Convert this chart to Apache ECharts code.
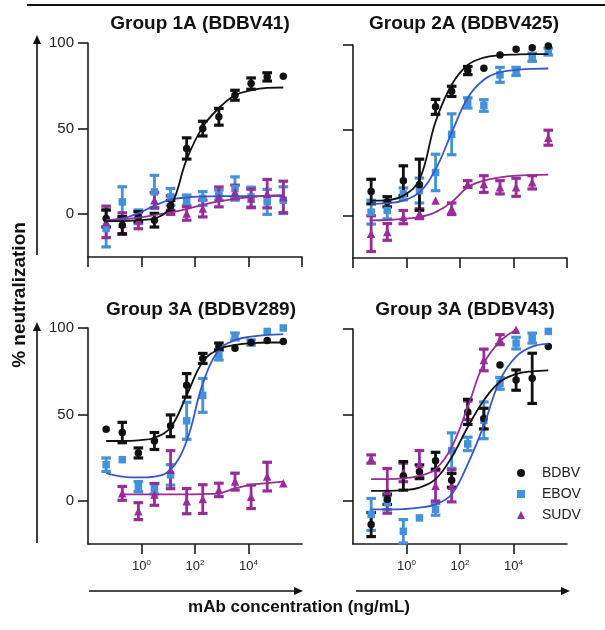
<!DOCTYPE html>
<html>
<head>
<meta charset="utf-8">
<script src="https://cdn.jsdelivr.net/npm/echarts@6/dist/echarts.min.js"></script>
<style>
html, body { margin: 0; padding: 0; background: #fff; }
#chart { width: 605px; height: 630px; }
</style>
</head>
<body>
<div id="chart"></div>
<script>
// Antibody dilution series (4-fold, starting at 200 µg/mL), in ng/mL
const concentrations = [0.0477, 0.191, 0.763, 3.05, 12.2, 48.8, 195, 781, 3125, 12500, 50000, 200000];
const xTickExponents = [-2, 0, 2, 4, 6];
const yTicks = [0, 50, 100];
const virusNames = ['BDBV', 'EBOV', 'SUDV'];

// Group 1A (BDBV41): mean % neutralization, SD, fitted curve
const g1a_bdbv     = [-2.5, -6.4, -1.5, -3.5, 5, 38.4, 50, 56.9, 69.5, 76.3, 80.2, 80.6];
const g1a_bdbv_sd  = [5, 5, 3, 4, 3, 6.2, 4.3, 4.9, 2.9, 3.3, 2.4, 0];
const g1a_bdbv_fit = [-4, -4, -3.5, -2.5, 4.3, 32, 51, 62, 69.5, 72.4, 73.8, 74];
const g1a_ebov     = [-8.4, 7.2, -1.5, 13, 10.1, 8.2, 9.2, 11.1, 15, 10, 7.2, 8.2];
const g1a_ebov_sd  = [10.7, 8.8, 4, 9.7, 4.9, 3, 4, 3, 6.8, 5.8, 7.3, 7.8];
const g1a_ebov_fit = [-3.5, -2.5, 0.5, 5, 8.5, 9.8, 10.3, 10.5, 10.5, 10.5, 10.5, 10.5];
const g1a_sudv     = [-4.5, -5.5, -3.5, 8.2, 5.3, 0.4, 3.3, 10.1, 13, 9.2, 12, 10.1];
const g1a_sudv_sd  = [9.2, 6.3, 5, 4.4, 5.4, 3.9, 4.9, 5.8, 4, 5.4, 8.3, 9.2];
const g1a_sudv_fit = [-3.5, -3, -2, -0.5, 1, 3, 5.5, 7.5, 9, 10, 10.8, 11.2];

// Group 2A (BDBV425)
const g2a_bdbv     = [14, 8, 20.4, 18, 63.7, 72.8, 85, 86.4, 94.2, 97.5, 98.4, 99.4];
const g2a_bdbv_sd  = [7.2, 3, 8.7, 15, 4.4, 3, 2.4, 0, 0, 0, 0, 0];
const g2a_bdbv_fit = [8.7, 9, 11.6, 21, 55, 76.7, 88.3, 92.6, 94, 94.4, 94.6, 94.6];
const g2a_ebov     = [1.9, 2.9, 12.6, 14.6, 25.2, 47.6, 66, 64.5, 82.5, 84.5, 92.8, 96.1];
const g2a_ebov_sd  = [7, 4.9, 3.5, 7.3, 10.7, 12, 3, 3.4, 4.4, 2.4, 2.4, 2];
const g2a_ebov_fit = [6.8, 7.2, 8.7, 13.6, 27, 48.5, 69, 79.6, 84, 85.4, 86, 86.2];
const g2a_sudv     = [-10.7, -9.7, -1, 1, 8.7, 3.9, 18.4, 18.4, 16.5, 16.5, 19.4, 45.6];
const g2a_sudv_sd  = [10.5, 4.9, 3.9, 2.9, 0, 3.4, 2, 4.9, 3.9, 5.3, 3.9, 4.4];
const g2a_sudv_fit = [-2.9, -2.7, -2, -1, 1.9, 7.8, 16.5, 20.4, 22.3, 23.3, 23.7, 23.9];

// Group 3A (BDBV289)
const g3a289_bdbv     = [41.4, 39.5, 27.7, 34.6, 43.4, 66.8, 82.4, 89.3, 88.3, 91.6, 92.8, 92.2];
const g3a289_bdbv_sd  = [0, 5.9, 2.9, 4.9, 6.3, 6.8, 2.9, 2, 0, 0, 0, 0];
const g3a289_bdbv_fit = [34.6, 34.6, 35, 36.5, 42.4, 61, 80.5, 87.7, 90.2, 91.2, 91.6, 91.6];
const g3a289_ebov     = [20.9, 23.8, 8.2, 7, 15, 46.3, 61, 84.4, 95.1, 91.6, 98, 100];
const g3a289_ebov_sd  = [3.9, 0, 2.9, 3, 5.9, 10.7, 9.8, 2.9, 2, 1.5, 0, 0];
const g3a289_ebov_fit = [16, 14, 13.5, 14, 18, 34.6, 67.8, 87.3, 93, 95, 96, 96.5];
const g3a289_sudv     = [null, 4.3, -6, 3.7, 18, -0.2, 1, 6.3, 11.1, 2.3, 14, 10.2];
const g3a289_sudv_sd  = [0, 4, 4.9, 6.3, 11, 7.3, 8.3, 3.9, 4.9, 6.8, 8.3, 0];
const g3a289_sudv_fit = [null, 3.7, 3.7, 3.7, 3.7, 3.7, 3.9, 4.3, 7.2, 9.2, 10.2, 11.1];

// Group 3A (BDBV43)
const g3a43_bdbv     = [-13.7, 1, 14.6, 17, 23.4, 12, 51.8, 47.9, 79.1, 70.3, 71.3, 89.8];
const g3a43_bdbv_sd  = [7, 3, 8.3, 4, 4.9, 4, 7.3, 6, 0, 5.9, 14.6, 0];
const g3a43_bdbv_fit = [5.9, 5.9, 6.3, 7.8, 12.7, 25.4, 43, 58.6, 69.3, 73.8, 75.4, 76];
const g3a43_ebov     = [-7.8, -1, -17.6, -9.8, -4.9, 29.3, 33.2, 46.9, 68.4, 91.8, 94.7, 98.6];
const g3a43_ebov_sd  = [9.3, 4, 6.8, 0, 3.4, 10.3, 3.9, 10.7, 3.4, 3.4, 2.9, 0];
const g3a43_ebov_fit = [-4.9, -4.9, -4.7, -3.9, -2, 3.9, 21.5, 44, 70.3, 84, 89.8, 91.4];
const g3a43_sudv     = [24.4, 5.9, 16.6, 21.5, 8.8, 8.8, 52.7, 82, 93.8, 99.6, null, null];
const g3a43_sudv_sd  = [2.4, 13, 5.4, 7.8, 8.8, 9.3, 5.4, 6.3, 2.9, 0, 0, 0];
const g3a43_sudv_fit = [12.7, 12.7, 13.1, 14.6, 18.5, 31.3, 54.7, 80, 92.8, 99.6, null, null];

const FONT = "'Liberation Sans', Arial, Helvetica, sans-serif";
const AXIS_COLOR = '#1a1a1a';
const style = {
  BDBV: { marker: '#111111', curve: '#111111', symbol: 'circle', size: 7.5 },
  EBOV: { marker: '#4392d8', curve: '#3a56c6', symbol: 'rect', size: 7.5 },
  SUDV: { marker: '#982d98', curve: '#982d98', symbol: 'triangle', size: 8.5 }
};

const panels = [
  { title: 'Group 1A (BDBV41)', cx: 195, ty: 9, grid: { left: 88, top: 43, width: 214, height: 214 }, xLabels: false, yLabels: true,
    data: { BDBV: [g1a_bdbv, g1a_bdbv_sd, g1a_bdbv_fit], EBOV: [g1a_ebov, g1a_ebov_sd, g1a_ebov_fit], SUDV: [g1a_sudv, g1a_sudv_sd, g1a_sudv_fit] } },
  { title: 'Group 2A (BDBV425)', cx: 459, ty: 9, grid: { left: 353, top: 45, width: 214, height: 213 }, xLabels: false, yLabels: false,
    data: { BDBV: [g2a_bdbv, g2a_bdbv_sd, g2a_bdbv_fit], EBOV: [g2a_ebov, g2a_ebov_sd, g2a_ebov_fit], SUDV: [g2a_sudv, g2a_sudv_sd, g2a_sudv_fit] } },
  { title: 'Group 3A (BDBV289)', cx: 196, ty: 295, grid: { left: 88, top: 328, width: 214, height: 216 }, xLabels: true, yLabels: true,
    data: { BDBV: [g3a289_bdbv, g3a289_bdbv_sd, g3a289_bdbv_fit], EBOV: [g3a289_ebov, g3a289_ebov_sd, g3a289_ebov_fit], SUDV: [g3a289_sudv, g3a289_sudv_sd, g3a289_sudv_fit] } },
  { title: 'Group 3A (BDBV43)', cx: 460, ty: 295, grid: { left: 353, top: 329, width: 214, height: 215 }, xLabels: true, yLabels: false,
    data: { BDBV: [g3a43_bdbv, g3a43_bdbv_sd, g3a43_bdbv_fit], EBOV: [g3a43_ebov, g3a43_ebov_sd, g3a43_ebov_fit], SUDV: [g3a43_sudv, g3a43_sudv_sd, g3a43_sudv_fit] } }
];

const logConc = concentrations.map(c => Math.log10(c));

function pairs(values) {
  return values.map((v, i) => [logConc[i], v]).filter(p => p[1] != null);
}

// Error bar with flat caps, drawn from the mean ± SD in axis space
function errorBarItem(color) {
  return function (params, api) {
    const x = api.value(0), m = api.value(1), e = api.value(2);
    const hi = api.coord([x, m + e]);
    const lo = api.coord([x, m - e]);
    const hw = 4.8;
    return {
      type: 'group',
      children: [
        { type: 'line', shape: { x1: hi[0], y1: hi[1], x2: lo[0], y2: lo[1] }, style: { stroke: color, lineWidth: 2.8 } },
        { type: 'line', shape: { x1: hi[0] - hw, y1: hi[1], x2: hi[0] + hw, y2: hi[1] }, style: { stroke: color, lineWidth: 3.2 } },
        { type: 'line', shape: { x1: lo[0] - hw, y1: lo[1], x2: lo[0] + hw, y2: lo[1] }, style: { stroke: color, lineWidth: 3.2 } }
      ]
    };
  };
}

const grids = [], xAxes = [], yAxes = [], series = [], titles = [];
const drawOrder = ['EBOV', 'SUDV', 'BDBV'];

panels.forEach((p, gi) => {
  grids.push(Object.assign({ containLabel: false }, p.grid));
  titles.push({
    text: p.title, left: p.cx, top: p.ty, textAlign: 'center',
    textStyle: { fontFamily: FONT, fontSize: 19, fontWeight: 'bold', color: '#111' }
  });
  xAxes.push({
    gridIndex: gi, type: 'value', min: -2, max: 6, interval: 2, position: 'bottom',
    axisLine: { onZero: false, lineStyle: { color: AXIS_COLOR, width: 1.6 } },
    axisTick: { length: 10, lineStyle: { color: AXIS_COLOR, width: 1.6 } },
    splitLine: { show: false },
    axisLabel: {
      show: p.xLabels, showMinLabel: false, showMaxLabel: false, margin: 15,
      formatter: v => '{b|10}{s|' + v + '}',
      rich: {
        b: { fontFamily: FONT, fontSize: 13, color: '#222', lineHeight: 14 },
        s: { fontFamily: FONT, fontSize: 8, color: '#222', lineHeight: 14, verticalAlign: 'top' }
      }
    }
  });
  yAxes.push({
    gridIndex: gi, type: 'value', min: -25, max: 100, position: 'left',
    axisLine: { onZero: false, lineStyle: { color: AXIS_COLOR, width: 1.6 } },
    axisTick: { length: 10, customValues: yTicks, lineStyle: { color: AXIS_COLOR, width: 1.6 } },
    splitLine: { show: false },
    axisLabel: { show: p.yLabels, customValues: yTicks, margin: 14, fontFamily: FONT, fontSize: 15, color: '#222' }
  });

  drawOrder.forEach(name => {
    const [mean, sd] = p.data[name];
    const st = style[name];
    const errData = mean.map((m, i) => [logConc[i], m, sd[i]]).filter(d => d[1] != null && d[2] > 0);
    series.push({
      name: name + ' SD', type: 'custom', xAxisIndex: gi, yAxisIndex: gi,
      renderItem: errorBarItem(st.marker), data: errData, encode: { x: 0, y: 1 },
      z: 2, silent: true, clip: false
    });
    series.push({
      name: name, type: 'scatter', xAxisIndex: gi, yAxisIndex: gi,
      data: pairs(mean), symbol: st.symbol, symbolSize: st.size,
      itemStyle: { color: st.marker, opacity: 1 }, z: 2, silent: true
    });
  });
  drawOrder.forEach(name => {
    const fit = p.data[name][2];
    const st = style[name];
    series.push({
      name: name + ' fit', type: 'line', xAxisIndex: gi, yAxisIndex: gi,
      data: pairs(fit), showSymbol: false, smooth: 0.4,
      lineStyle: { color: st.curve, width: 1.8 }, itemStyle: { color: st.curve },
      z: 3, silent: true
    });
  });
});

const arrowColor = '#111';
const graphics = [
  // rule across the top of the figure
  { type: 'line', shape: { x1: 27, y1: 5, x2: 605, y2: 5 }, style: { stroke: '#111', lineWidth: 2 } },
  // vertical arrows beside each row
  { type: 'line', shape: { x1: 37, y1: 255, x2: 37, y2: 42 }, style: { stroke: arrowColor, lineWidth: 1.6 } },
  { type: 'polygon', shape: { points: [[37, 35], [33, 44], [41, 44]] }, style: { fill: arrowColor } },
  { type: 'line', shape: { x1: 37, y1: 543, x2: 37, y2: 329 }, style: { stroke: arrowColor, lineWidth: 1.6 } },
  { type: 'polygon', shape: { points: [[37, 322], [33, 331], [41, 331]] }, style: { fill: arrowColor } },
  // horizontal arrows below each column
  { type: 'line', shape: { x1: 89, y1: 591, x2: 295, y2: 591 }, style: { stroke: arrowColor, lineWidth: 1.6 } },
  { type: 'polygon', shape: { points: [[303, 591], [294, 587], [294, 595]] }, style: { fill: arrowColor } },
  { type: 'line', shape: { x1: 356, y1: 591, x2: 562, y2: 591 }, style: { stroke: arrowColor, lineWidth: 1.6 } },
  { type: 'polygon', shape: { points: [[570, 591], [561, 587], [561, 595]] }, style: { fill: arrowColor } },
  // shared axis titles
  { type: 'text', x: 20, y: 295, rotation: Math.PI / 2,
    style: { text: '% neutralization', fontFamily: FONT, fontSize: 19, fontWeight: 'bold', fill: '#111', align: 'center', verticalAlign: 'middle' } },
  { type: 'text', x: 299, y: 607,
    style: { text: 'mAb concentration (ng/mL)', fontFamily: FONT, fontSize: 17, fontWeight: 'bold', fill: '#111', align: 'center', verticalAlign: 'middle' } }
];

const chart = echarts.init(document.getElementById('chart'), null, { renderer: 'canvas' });
chart.setOption({
  animation: false,
  backgroundColor: '#ffffff',
  title: titles,
  grid: grids,
  xAxis: xAxes,
  yAxis: yAxes,
  legend: {
    orient: 'vertical', left: 512, top: 461, itemGap: 7,
    itemWidth: 8, itemHeight: 8, selectedMode: false,
    data: [
      { name: 'BDBV', icon: 'circle' },
      { name: 'EBOV', icon: 'rect' },
      { name: 'SUDV', icon: 'triangle' }
    ],
    textStyle: { fontFamily: FONT, fontSize: 14, color: '#222', lineHeight: 14, padding: [0, 0, 0, 12] }
  },
  graphic: graphics,
  series: series
});
</script>
</body>
</html>
